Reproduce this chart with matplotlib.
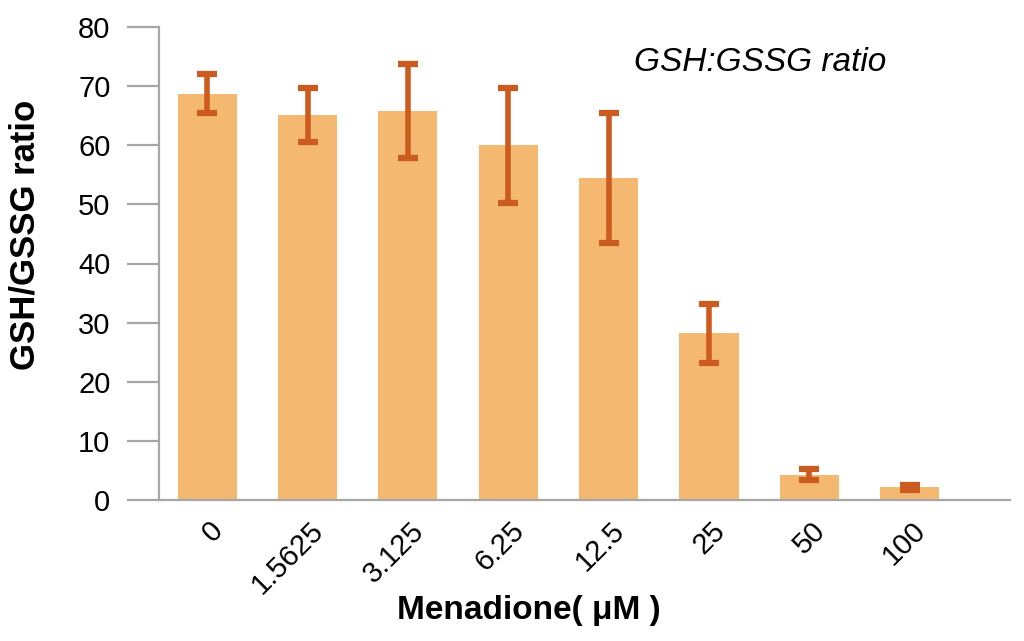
import matplotlib.pyplot as plt
import numpy as np

plt.rcParams['font.family'] = ['Liberation Sans', 'DejaVu Sans']

concs = ['0', '1.5625', '3.125', '6.25', '12.5', '25', '50', '100']
ratio = [68.7, 65.1, 65.8, 60.0, 54.5, 28.2, 4.3, 2.15]
err = [3.3, 4.5, 8.0, 9.7, 11.0, 5.0, 0.9, 0.4]

bar_col = '#F5B870'
err_col = '#CC5B1F'
axis_col = '#A6A6A6'

fig = plt.figure(figsize=(10.24, 6.41), dpi=100)
ax = fig.add_axes([159/1024, 1 - 500/641, (1010 - 159)/1024, (500 - 27)/641])

x = np.arange(len(concs))
ax.bar(x, ratio, width=0.59, color=bar_col, zorder=2)
ax.errorbar(x, ratio, yerr=err, fmt='none', ecolor=err_col, elinewidth=4,
            capsize=7.5, capthick=4.5, zorder=3)

ax.set_xlim(-0.48, 8.0)
ax.set_ylim(0, 80)
ax.set_yticks(range(0, 81, 10))
ax.set_xticks(x)
ax.set_xticklabels([])

# rotated category labels, nudged right of each bar centre
for i, lab in zip(x, concs):
    ax.annotate(lab, xy=(i, 0), xycoords=('data', 'axes fraction'),
                xytext=(8.5, -19), textcoords='offset points',
                rotation=45, ha='right', va='center', rotation_mode='anchor',
                fontsize=21, annotation_clip=False)

for s in ['top', 'right']:
    ax.spines[s].set_visible(False)
for s in ['left', 'bottom']:
    ax.spines[s].set_color(axis_col)
    ax.spines[s].set_linewidth(1.6)

ax.tick_params(axis='y', length=23, width=1.6, color=axis_col, labelsize=21, pad=12)
ax.tick_params(axis='x', length=0)

ax.set_ylabel('GSH/GSSG ratio', fontsize=25, fontweight='bold')
ax.yaxis.set_label_coords(-0.1375, 0.56)
ax.set_xlabel('Menadione( μM )', fontsize=24, fontweight='bold')
ax.xaxis.set_label_coords(0.435, -0.2)

ax.text(0.707, 0.924, 'GSH:GSSG ratio', transform=ax.transAxes, fontsize=24,
        fontstyle='italic', ha='center', va='center')

fig.savefig('out.png', dpi=100)
